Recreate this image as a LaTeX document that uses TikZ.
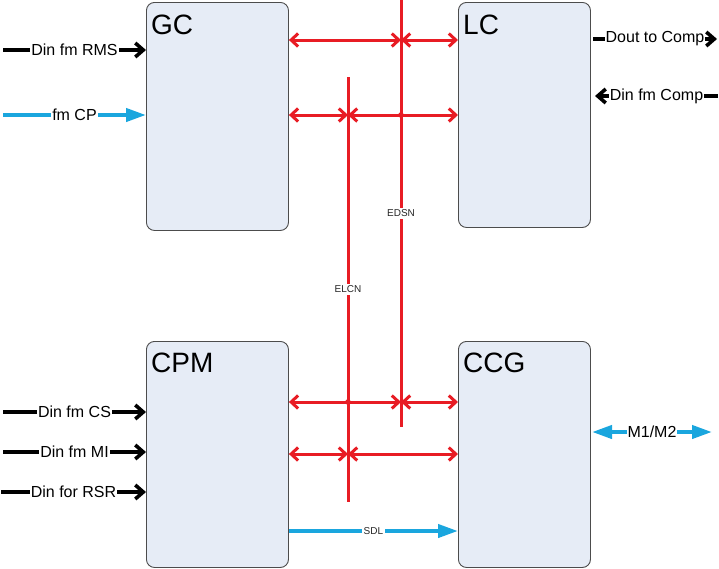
\documentclass[tikz,border=0pt]{standalone}
\usepackage{fontspec}
\setmainfont{Liberation Sans}
\usetikzlibrary{arrows.meta}
\definecolor{busred}{HTML}{E81C24}
\definecolor{linkblue}{HTML}{1AA6DE}
\definecolor{boxfill}{HTML}{E6ECF6}

\begin{document}
\begin{tikzpicture}[x=1pt,y=-1pt,
    unit/.style={draw=black!70,line width=0.9pt,fill=boxfill,rounded corners=8pt,anchor=north west,inner sep=0pt},
    title/.style={anchor=north west,inner sep=0pt,font=\fontsize{28}{30}\selectfont},
    blk/.style={line width=3.6pt,-{Straight Barb[length=8pt,width=14pt]}},
    cyn/.style={linkblue,line width=4pt,-{Triangle[length=20pt,width=13pt]}},
    cyntwo/.style={cyn,{Triangle[length=20pt,width=13pt]}-{Triangle[length=20pt,width=13pt]}},
    bus/.style={busred,line width=3pt},
    redarr/.style={bus,{Straight Barb[length=7pt,width=13pt]}-{Straight Barb[length=7pt,width=13pt]}},
    lbl/.style={fill=white,inner sep=1pt,text=black,font=\fontsize{16}{18}\selectfont},
    small/.style={fill=white,inner sep=1.5pt,text=black!85,font=\fontsize{10}{12}\selectfont}]
    \useasboundingbox (0,0) rectangle (719,568);

    \node[unit,minimum width=142pt,minimum height=228pt] (gc) at (146,2) {};
    \node[unit,minimum width=132pt,minimum height=225pt] (lc) at (458,2) {};
    \node[unit,minimum width=142pt,minimum height=226pt] (cpm) at (146,341) {};
    \node[unit,minimum width=132pt,minimum height=226pt] (ccg) at (458,341) {};
    \node[title] (gct) at ([shift={(5,13)}]gc.north west) {GC};
    \node[title] (lct) at ([shift={(5,13)}]lc.north west) {LC};
    \node[title] (cpmt) at ([shift={(5,12)}]cpm.north west) {CPM};
    \node[title] (ccgt) at ([shift={(5,12)}]ccg.north west) {CCG};

    \coordinate (edsntop) at (401,0);
    \coordinate (edsnbot) at (401,427);
    \coordinate (elcntop) at (348,77);
    \coordinate (elcnbot) at (348,502);
    \draw[bus] (edsntop) -- node[small] (edsn) {EDSN} (edsnbot);
    \draw[bus] (elcntop) -- node[small] (elcn) {ELCN} (elcnbot);

    \coordinate (ds1) at (401,40);
    \coordinate (lc2) at (348,115);
    \coordinate (ds2) at (401,115);
    \coordinate (lc3) at (348,402);
    \coordinate (ds3) at (401,402);
    \coordinate (lc4) at (348,454);
    \draw[redarr] (gc.east |- ds1) -- (ds1);
    \draw[redarr] (ds1) -- (lc.west |- ds1);
    \draw[redarr] (gc.east |- lc2) -- (lc2);
    \draw[redarr] (lc2) -- (lc.west |- lc2);
    \draw[redarr] (cpm.east |- ds3) -- (ds3);
    \draw[redarr] (ds3) -- (ccg.west |- ds3);
    \draw[redarr] (cpm.east |- lc4) -- (lc4);
    \draw[redarr] (lc4) -- (ccg.west |- lc4);
    \fill[busred] (ds2) circle (2.8pt);
    \fill[busred] (lc3) circle (2.8pt);

    \coordinate (rmsin) at (3,50);
    \coordinate (cpin) at (3,115);
    \coordinate (csin) at (3,412);
    \coordinate (miin) at (3,452);
    \coordinate (rsrin) at (1,492);
    \draw[blk] (rmsin) -- node[lbl] {Din fm RMS} (gc.west |- rmsin);
    \draw[cyn] (cpin) -- node[lbl] {fm CP} (gc.west |- cpin);
    \draw[blk] (csin) -- node[lbl] {Din fm CS} (cpm.west |- csin);
    \draw[blk] (miin) -- node[lbl] {Din fm MI} (cpm.west |- miin);
    \draw[blk] (rsrin) -- node[lbl] {Din for RSR} (cpm.west |- rsrin);

    \coordinate (doutbeg) at (593,39);
    \coordinate (doutend) at (717,39);
    \coordinate (dinbeg) at (718,96);
    \coordinate (dinend) at (595,96);
    \draw[blk] (doutbeg) -- node[lbl] {Dout to Comp} (doutend);
    \draw[blk] (dinbeg) -- node[lbl] {Din fm Comp} (dinend);

    \coordinate (mbeg) at (592,432);
    \coordinate (mend) at (712,432);
    \draw[cyntwo] (mbeg) -- node[lbl] {M1/M2} (mend);
    \draw[cyn] (cpm.east |- 0,531) -- node[small] {SDL} (ccg.west |- 0,531);
\end{tikzpicture}
\end{document}
